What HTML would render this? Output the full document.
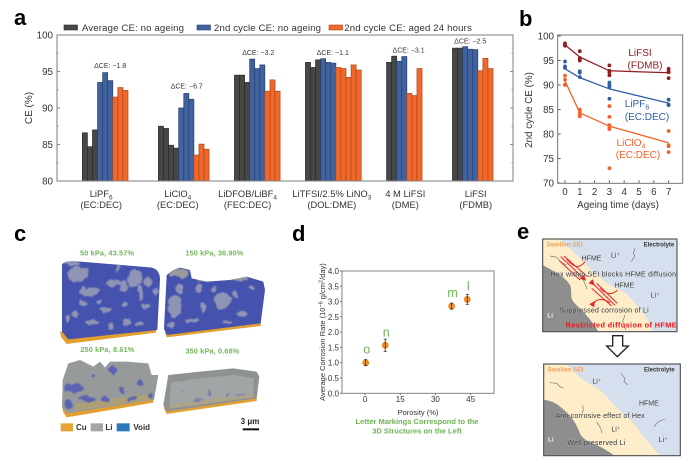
<!DOCTYPE html>
<html lang="en">
<head>
<meta charset="utf-8">
<title>Corrosion and ageing of lithium metal electrolytes</title>
<style>
html,body{margin:0;padding:0;background:#fff;width:685px;height:469px;overflow:hidden}
svg{display:block;font-family:"Liberation Sans",sans-serif;filter:blur(.35px)}
</style>
</head>
<body>
<svg id="fig" width="685" height="469" viewBox="0 0 685 469" xmlns="http://www.w3.org/2000/svg">
<defs>
<clipPath id="c1"><path d="M186,135Q190,120 240,125L450,142Q478,145 480,175L472,330L205,358L186,335Z"/></clipPath>
<clipPath id="c2"><path d="M500,165L520,150L540,143L570,150L575,175L620,185L690,180L740,170L790,185L795,210L782,310L500,345L492,325Z"/></clipPath>
<clipPath id="c3"><path d="M205,430L240,420L280,440L300,425L315,442L330,425L380,425L445,430L455,465L475,465L462,540L200,580L186,560L188,480Z"/></clipPath>
<clipPath id="c4"><path d="M505,465L600,455L700,445L770,455L778,470L770,535L500,575L490,555Z"/></clipPath>
<filter id="soft" x="-10%" y="-10%" width="120%" height="120%">
  <feTurbulence type="fractalNoise" baseFrequency=".035" numOctaves="3" seed="4" result="n"/>
  <feDisplacementMap in="SourceGraphic" in2="n" scale="26" xChannelSelector="R" yChannelSelector="G"/>
  <feGaussianBlur stdDeviation="1.6"/>
</filter>
<marker id="red-head" markerWidth="6" markerHeight="6" refX="3" refY="3" orient="auto"><path d="M0,0L6,3L0,6Z" fill="#e8262a"/></marker>
</defs>

<g id="panel-a"></g>
<g id="panel-b"></g>
<g id="panel-d"></g>

<text x="14" y="25" font-size="22" font-weight="700">a</text>
<text x="519" y="26" font-size="22" font-weight="700">b</text>
<text x="14" y="241" font-size="22" font-weight="700">c</text>
<text x="292" y="241" font-size="22" font-weight="700">d</text>
<text x="517" y="239" font-size="22" font-weight="700">e</text>

<!-- Panel c, drawn in 3x coordinates -->
<g transform="translate(0,220) scale(.33333)">
  <g>
    <path d="M180,335L468,325L468,338L200,372L184,352Z" fill="#e3a02f"/>
    <path d="M186,135Q190,120 240,125L450,142Q478,145 480,175L472,330L205,358L186,335Z" fill="#4552ae"/>
    <g clip-path="url(#c1)"><g fill="#8f93b4" filter="url(#soft)">
      <ellipse cx="235" cy="160" rx="30" ry="24"/><ellipse cx="265" cy="215" rx="25" ry="15"/><ellipse cx="370" cy="200" rx="15" ry="15"/>
      <ellipse cx="345" cy="190" rx="20" ry="10"/><ellipse cx="405" cy="175" rx="22" ry="28"/><ellipse cx="420" cy="220" rx="10" ry="20"/>
      <ellipse cx="445" cy="185" rx="12" ry="10"/><ellipse cx="435" cy="260" rx="15" ry="10"/><ellipse cx="320" cy="270" rx="18" ry="8"/>
      <ellipse cx="375" cy="255" rx="10" ry="10"/><ellipse cx="380" cy="305" rx="12" ry="16"/><ellipse cx="275" cy="305" rx="18" ry="10"/>
      <ellipse cx="330" cy="315" rx="10" ry="8"/><ellipse cx="225" cy="280" rx="12" ry="8"/><ellipse cx="205" cy="295" rx="6" ry="10"/>
      <ellipse cx="465" cy="215" rx="8" ry="8"/><ellipse cx="300" cy="245" rx="8" ry="6"/><ellipse cx="355" cy="145" rx="6" ry="14"/>
      <ellipse cx="215" cy="128" rx="30" ry="8"/><ellipse cx="250" cy="250" rx="14" ry="8"/><ellipse cx="420" cy="310" rx="10" ry="7"/>
    </g></g>
  </g>
  <g>
    <path d="M492,325L782,306L782,318L500,352Z" fill="#e3a02f"/>
    <path d="M500,165L520,150L540,143L570,150L575,175L620,185L690,180L740,170L790,185L795,210L782,310L500,345L492,325Z" fill="#4552ae"/>
    <g clip-path="url(#c2)"><g fill="#8f93b4" filter="url(#soft)">
      <ellipse cx="525" cy="260" rx="20" ry="35"/><ellipse cx="540" cy="205" rx="15" ry="15"/><ellipse cx="665" cy="240" rx="25" ry="25"/>
      <ellipse cx="645" cy="205" rx="8" ry="8"/><ellipse cx="595" cy="205" rx="8" ry="14"/><ellipse cx="705" cy="220" rx="10" ry="15"/>
      <ellipse cx="755" cy="205" rx="10" ry="6"/><ellipse cx="725" cy="280" rx="20" ry="8"/><ellipse cx="610" cy="265" rx="10" ry="15"/>
      <ellipse cx="575" cy="300" rx="20" ry="6"/><ellipse cx="680" cy="305" rx="15" ry="6"/><ellipse cx="515" cy="315" rx="15" ry="10"/>
    </g><g fill="#9a9a9e" filter="url(#soft)">
      <ellipse cx="540" cy="160" rx="30" ry="14"/><ellipse cx="720" cy="175" rx="28" ry="8"/><ellipse cx="610" cy="180" rx="20" ry="4"/>
    </g></g>
  </g>
  <g>
    <path d="M186,560L460,530L460,548L200,592L190,578Z" fill="#e3a02f"/>
    <path d="M205,430L240,420L280,440L300,425L315,442L330,425L380,425L445,430L455,465L475,465L462,540L200,580L186,560L188,480Z" fill="#979a9a"/>
    <g clip-path="url(#c3)">
      <path d="M225,552L455,520L458,540L225,572Z" fill="#ad9f78"/>
      <g filter="url(#soft)" fill="#5a64b4">
        <ellipse cx="340" cy="450" rx="8" ry="18"/><ellipse cx="220" cy="505" rx="25" ry="15"/><ellipse cx="205" cy="550" rx="12" ry="20"/>
        <ellipse cx="315" cy="535" rx="10" ry="14"/><ellipse cx="265" cy="535" rx="25" ry="10"/><ellipse cx="365" cy="510" rx="7" ry="10"/>
        <ellipse cx="420" cy="485" rx="8" ry="8"/><ellipse cx="450" cy="530" rx="12" ry="6"/><ellipse cx="395" cy="535" rx="12" ry="6"/><ellipse cx="280" cy="470" rx="5" ry="6"/>
      </g>
    </g>
  </g>
  <g>
    <path d="M490,562L770,532L770,543L500,582Z" fill="#e3a02f"/>
    <path d="M505,465L600,455L700,445L770,455L778,470L770,535L500,575L490,555Z" fill="#8f9292"/>
    <path d="M512,488L600,475L700,465L762,475L760,530L508,560Z" fill="#a2a5a5"/>
    <path d="M510,552L760,522L762,532L510,566Z" fill="#aca488"/>
    <g filter="url(#soft)" fill="#767cb0">
      <ellipse cx="630" cy="520" rx="4" ry="10"/><ellipse cx="680" cy="525" rx="5" ry="5"/><ellipse cx="550" cy="510" rx="4" ry="4"/><ellipse cx="725" cy="525" rx="10" ry="4"/><ellipse cx="590" cy="540" rx="16" ry="3"/>
    </g>
  </g>
  <g font-size="22" font-weight="700" fill="#74b45c" text-anchor="middle">
    <text x="321" y="107" textLength="162">50 kPa, 43.57%</text>
    <text x="643" y="107" textLength="174">150 kPa, 36.90%</text>
    <text x="322" y="396" textLength="162">250 kPa, 8.61%</text>
    <text x="637" y="400" textLength="162">350 kPa, 0.68%</text>
  </g>
  <g font-size="24" font-weight="700" fill="#333">
    <rect x="182" y="610" width="37" height="24" fill="#e6a336"/>
    <text x="228" y="630">Cu</text>
    <rect x="272" y="610" width="37" height="24" fill="#a5a5a5"/>
    <text x="316" y="630">Li</text>
    <rect x="350" y="610" width="39" height="24" fill="#2a78b8"/>
    <text x="400" y="630">Void</text>
  </g>
  <text x="750" y="612" font-size="24" font-weight="700" fill="#222" text-anchor="middle">3 μm</text>
  <rect x="728" y="625" width="49" height="6" fill="#111"/>
</g>

<!-- Panel e, drawn in 3x coordinates -->
<g transform="translate(500,220) scale(.33333)">
  <g>
    <rect x="128" y="57" width="403" height="278" fill="#d6dfee"/>
    <path d="M128,57H178C195,72 208,84 220,95C235,110 248,125 260,135C272,146 280,158 290,165C302,175 316,188 330,195C345,203 358,208 370,215C385,226 398,240 410,255C420,268 430,282 440,295C447,306 454,320 460,335H128Z" fill="#fdedc8"/>
    <path d="M128,135C146,145 164,154 180,165C192,174 204,184 210,195C216,208 212,222 215,235C220,250 238,262 250,275C265,292 282,312 295,335H128Z" fill="#8e8e8e"/>
    <rect x="128" y="57" width="403" height="278" fill="none" stroke="#555" stroke-width="3.5"/>
    <g fill="none" stroke="#777" stroke-width="2">
      <path d="M405,85L400,100L404,108L394,125"/>
      <path d="M150,108L170,112L185,128L200,135"/>
      <path d="M228,160L250,180L262,208"/>
      <path d="M375,285L368,305L378,330"/>
    </g>
    <g fill="none" stroke="#e8262a" stroke-width="3">
      <path d="M182,110L252,176" marker-end="url(#red-head)"/><path d="M192,108L262,170"/><path d="M178,122L240,180"/>
      <path d="M278,190L345,256" marker-start="url(#red-head)"/><path d="M290,190L352,250"/><path d="M275,205L335,258"/>
      <path d="M200,118C220,140 235,150 255,125"/>
      <path d="M300,205C320,225 340,225 352,210"/>
      <path d="M280,250C290,235 310,235 330,248" marker-start="url(#red-head)"/>
    </g>
    <g font-size="21" fill="#333" paint-order="stroke" stroke="#fff" stroke-opacity=".35" stroke-width="2">
      <text x="245" y="122">HFME</text>
      <text x="333" y="112">Li⁺</text>
      <text x="152" y="170" textLength="376">Hex within SEI blocks HFME diffusion</text>
      <text x="343" y="202">HFME</text>
      <text x="452" y="233">Li⁺</text>
      <text x="178" y="278" textLength="268">Suppressed corrosion of Li</text>
    </g>
    <text x="140" y="80" font-size="19" font-weight="700" fill="#f0a060">Swollen SEI</text>
    <text x="431" y="80" font-size="18" font-weight="700" fill="#333">Electrolyte</text>
    <text x="142" y="293" font-size="19" font-weight="700" fill="#eee">Li</text>
    <text x="197" y="323" font-size="22" font-weight="700" fill="#f0141c" textLength="333">Restricted diffusion of HFME</text>
  </g>
  <path d="M338,347H368V378H385L352,410L320,378H338Z" fill="#fff" stroke="#222" stroke-width="4"/>
  <g>
    <rect x="131" y="432" width="410" height="275" fill="#d6dfee"/>
    <path d="M131,432H200C225,460 250,485 285,500C320,520 345,565 380,590C405,610 420,640 440,660C455,680 470,695 482,707H131Z" fill="#fdedc8"/>
    <path d="M131,540C150,540 170,550 180,560C205,580 225,600 240,640C250,665 290,672 310,685C325,695 335,700 342,707H131Z" fill="#8e8e8e"/>
    <rect x="131" y="432" width="410" height="275" fill="none" stroke="#555" stroke-width="3.5"/>
    <g fill="none" stroke="#777" stroke-width="2">
      <path d="M362,460L375,475L372,485L384,495"/>
      <path d="M150,488L170,490L180,500L190,505"/>
      <path d="M248,555L250,570L246,580"/>
      <path d="M290,605L302,625L306,640"/>
      <path d="M462,620L475,605L495,597"/>
    </g>
    <g font-size="21" fill="#333" paint-order="stroke" stroke="#fff" stroke-opacity=".35" stroke-width="2">
      <text x="277" y="491">Li⁺</text>
      <text x="417" y="556">HFME</text>
      <text x="166" y="594" textLength="268">Anti-corrosive effect of Hex</text>
      <text x="334" y="635">Li⁺</text>
      <text x="476" y="666">Li⁺</text>
      <text x="202" y="675" textLength="174">Well preserved Li</text>
    </g>
    <text x="142" y="455" font-size="19" font-weight="700" fill="#f0a060">Swollen SEI</text>
    <text x="432" y="455" font-size="18" font-weight="700" fill="#333">Electrolyte</text>
    <text x="144" y="664" font-size="19" font-weight="700" fill="#eee">Li</text>
  </g>
</g>
</svg>

<script>
/* Panel a data */
const categoryNames = ['LiPF', 'LiClO', 'LiDFOB/LiBF', 'LiTFSI/2.5% LiNO', '4 M LiFSI', 'LiFSI'];
const categorySubscripts = ['6', '4', '4', '3', '', ''];
const categorySolvents = ['(EC:DEC)', '(EC:DEC)', '(FEC:DEC)', '(DOL:DME)', '(DME)', '(FDMB)'];
const averageNoAgeing = [
  [86.6, 84.7, 87.0],
  [87.5, 87.2, 84.9, 84.5],
  [94.5, 94.5, 93.5],
  [96.25, 95.55, 96.6],
  [96.25, 97.1],
  [98.2, 98.2]
];
const secondCycleNoAgeing = [
  [93.5, 94.85, 93.75],
  [90.0, 92.0, 91.2],
  [96.7, 95.4, 95.9],
  [96.75, 96.25, 96.15],
  [96.4, 97.05],
  [98.4, 98.05, 98.0]
];
const secondCycleAged = [
  [91.5, 92.8, 92.4],
  [83.55, 85.05, 84.35],
  [92.3, 93.85, 92.3],
  [95.55, 95.4, 94.2, 95.9, 95.2],
  [92.0, 91.7, 95.4],
  [95.1, 96.8, 95.4]
];
const deltaLabels = ['ΔCE: −1.8', 'ΔCE: −6.7', 'ΔCE: −3.2', 'ΔCE: −1.1', 'ΔCE: −3.1', 'ΔCE: −2.5'];
const ceTicks = [80, 85, 90, 95, 100];
const legendLabels = ['Average CE: no ageing', '2nd cycle CE: no ageing', '2nd cycle CE: aged 24 hours'];

/* Panel b data: [day, CE] pairs */
const agingDayTicks = [0, 1, 2, 3, 4, 5, 6, 7];
const agingCeTicks = [70, 75, 80, 85, 90, 95, 100];
const fitDays = [0, 1, 3, 7];
const lifsiFit = [98.2, 95.7, 92.9, 92.5];
const lipf6Fit = [93.3, 91.5, 89.2, 86.3];
const liclo4Fit = [90.8, 84.3, 81.6, 78.2];
const lifsiPoints = [[0,98.5],[0,98.2],[0,98.0],[1,96.9],[1,95.5],[1,95.2],[1,95.0],[3,94],[3,92.9],[3,92.6],[3,92],[7,93.3],[7,92.8],[7,92.6],[7,91.4]];
const lipf6Points = [[0,94.8],[0,93.8],[0,93.5],[1,92.8],[1,92.5],[1,91.6],[3,90.5],[3,90],[3,89.6],[3,87.2],[7,87],[7,86],[7,85.9]];
const liclo4Points = [[0,91.9],[0,91.1],[0,90.1],[0,90],[1,85],[1,84.5],[1,83.9],[1,83.6],[3,85.7],[3,83.5],[3,81.8],[3,81.4],[3,81],[3,73],[7,80.6],[7,77.7],[7,77.5],[7,76.3]];

/* Panel d data */
const porosityValues = [0.3, 8.61, 36.9, 43.57];
const corrosionRates = [1.0, 1.57, 2.85, 3.07];
const corrosionErrors = [0.1, 0.2, 0.1, 0.16];
const pointLetters = ['o', 'n', 'm', 'l'];
const corrosionTicks = ['0.0', '0.5', '1.0', '1.5', '2.0', '2.5', '3.0', '3.5', '4.0'];
const porosityTicks = [0, 15, 30, 45];

const NS = 'http://www.w3.org/2000/svg';
function make(parent, tag, attrs, content) {
  const el = document.createElementNS(NS, tag);
  for (const k in attrs) el.setAttribute(k, attrs[k]);
  if (content !== undefined) el.textContent = content;
  parent.appendChild(el);
  return el;
}

/* ---------- Panel a ---------- */
(function () {
  const g = document.getElementById('panel-a');
  const left = 57, right = 513, top = 35, bottom = 181;
  const barW = 5.07;
  const gapBars = [5, 6, 5, 5, 5, 6];
  const labelShift = [-4, -6, -9.7, -1.5, 1, 3];
  const deltaPos = [[5, 68], [3, 88.7], [1, 55], [-0.5, 55], [4.3, 52.7], [-2.5, 43.7]];
  const y = v => bottom - (v - 80) * (bottom - top) / 20;
  const axisColor = '#8a8a8a', tickText = '#333';

  const frame = make(g, 'rect', {x: left, y: top, width: right - left, height: bottom - top, fill: 'none', stroke: axisColor, 'stroke-width': 1.1});
  
  

  for (let v = 80; v <= 100; v += 2.5) {
    const major = v % 5 === 0;
    const len = major ? 3 : 1.5;
    const t1 = make(g, 'line', {x1: left, x2: left + len, y1: y(v), y2: y(v), stroke: axisColor});
    
    
    const t2 = make(g, 'line', {x1: right, x2: right - len, y1: y(v), y2: y(v), stroke: axisColor});
    
    
  }
  ceTicks.forEach(v => {
    const t = make(g, 'text', {x: 53, y: y(v) + 3.5, 'font-size': 9.8, fill: tickText, 'text-anchor': 'end'}, v);
    
    
  });
  const yTitle = make(g, 'text', {transform: 'translate(32,108) rotate(-90)', 'font-size': 10, fill: tickText, 'text-anchor': 'middle'}, 'CE (%)');
  
  

  const seriesStyle = [
    {data: averageNoAgeing, fill: '#474747', stroke: '#2c2c2c', name: 'bar-average'},
    {data: secondCycleNoAgeing, fill: '#40629f', stroke: '#2a426f', name: 'bar-no-ageing'},
    {data: secondCycleAged, fill: '#f2672a', stroke: '#a8481d', name: 'bar-aged'}
  ];
  let slot = 0;
  categoryNames.forEach((name, i) => {
    slot += gapBars[i];
    const start = slot;
    seriesStyle.forEach(s => {
      s.data[i].forEach(v => {
        const b = make(g, 'rect', {x: left + slot * barW, y: y(v), width: barW, height: bottom - y(v), fill: s.fill, stroke: s.stroke, 'stroke-width': 0.7});
        
        
        slot++;
      });
    });
    const centre = left + (start + slot) / 2 * barW;
    const cx = centre + labelShift[i];
    const label = make(g, 'text', {x: cx, y: 197, 'font-size': 9.4, fill: tickText, 'text-anchor': 'middle'}, name);
    
    
    if (categorySubscripts[i]) make(label, 'tspan', {dy: 2.5, 'font-size': 6.5}, categorySubscripts[i]);
    const solvent = make(g, 'text', {x: cx, y: 208, 'font-size': 9.4, fill: tickText, 'text-anchor': 'middle'}, categorySolvents[i]);
    
    
    const delta = make(g, 'text', {x: centre + deltaPos[i][0], y: deltaPos[i][1], 'font-size': 7, fill: tickText, 'text-anchor': 'middle'}, deltaLabels[i]);
    
    
  });
  const baseLine = make(g, 'line', {x1: left, x2: right, y1: bottom, y2: bottom, stroke: axisColor, 'stroke-width': 1.1});
  
  

  const legendSwatchX = [64, 197, 329];
  const legendTextX = [82, 214, 344.3];
  const legendWidth = [102, 107, 127.5];
  legendLabels.forEach((txt, i) => {
    const sw = make(g, 'rect', {x: legendSwatchX[i], y: 25, width: 13.5, height: 5, fill: seriesStyle[i].fill, stroke: seriesStyle[i].stroke, 'stroke-width': 0.6});
    
    
    const t = make(g, 'text', {x: legendTextX[i], y: 31, 'font-size': 9.6, fill: '#333', textLength: legendWidth[i]}, txt);
    
    
  });
})();

/* ---------- Panel b ---------- */
(function () {
  const g = document.getElementById('panel-b');
  const left = 557.7, right = 682.7, top = 35, bottom = 183.3;
  const x = d => 565 + d * 14.8;
  const y = v => 183 - (v - 70) * 4.9;
  const axisColor = '#666', tickText = '#333';

  const frame = make(g, 'rect', {x: left, y: top, width: right - left, height: bottom - top, fill: 'none', stroke: axisColor, 'stroke-width': 0.9});
  
  

  agingCeTicks.forEach(v => {
    const tk = make(g, 'line', {x1: left, x2: left + 3, y1: y(v), y2: y(v), stroke: axisColor});
    
    
    const t = make(g, 'text', {x: 554, y: y(v) + 3.5, 'font-size': 9.8, fill: tickText, 'text-anchor': 'end'}, v);
    
    
  });
  agingDayTicks.forEach(d => {
    const tk = make(g, 'line', {x1: x(d), x2: x(d), y1: bottom, y2: bottom - 3, stroke: axisColor});
    
    
    const t = make(g, 'text', {x: x(d), y: 195, 'font-size': 9.8, fill: tickText, 'text-anchor': 'middle'}, d);
    
    
  });
  const xTitle = make(g, 'text', {x: 618, y: 208, 'font-size': 9.8, fill: tickText, 'text-anchor': 'middle'}, 'Ageing time (days)');
  
  
  const yTitle = make(g, 'text', {transform: 'translate(532,110) rotate(-90)', 'font-size': 9.8, fill: tickText, 'text-anchor': 'middle'}, '2nd cycle CE (%)');
  
  

  const series = [
    {fit: lifsiFit, pts: lifsiPoints, color: '#8f1d22', name: 'lifsi'},
    {fit: lipf6Fit, pts: lipf6Points, color: '#2f5ea8', name: 'lipf6'},
    {fit: liclo4Fit, pts: liclo4Points, color: '#f4602a', name: 'liclo4'}
  ];
  series.forEach(s => {
    const line = make(g, 'polyline', {points: fitDays.map((d, i) => x(d) + ',' + y(s.fit[i])).join(' '), fill: 'none', stroke: s.color, 'stroke-width': 1.3});
    
    
    s.pts.forEach(p => {
      const c = make(g, 'circle', {cx: x(p[0]), cy: y(p[1]), r: 1.9, fill: s.color});
      
      
    });
  });

  const seriesLabels = [
    ['LiFSI', '', 640, 56, '#8f1d22'], ['(FDMB)', '', 645, 68.5, '#8f1d22'],
    ['LiPF', '6', 637, 107, '#2f5ea8'], ['(EC:DEC)', '', 647, 120, '#2f5ea8'],
    ['LiClO', '4', 631, 146, '#f4602a'], ['(EC:DEC)', '', 638, 158, '#f4602a']
  ];
  seriesLabels.forEach(l => {
    const t = make(g, 'text', {x: l[2], y: l[3], 'font-size': 10, fill: l[4], 'text-anchor': 'middle'}, l[0]);
    
    
    if (l[1]) make(t, 'tspan', {dy: 2.5, 'font-size': 7}, l[1]);
  });
})();

/* ---------- Panel d ---------- */
(function () {
  const g = document.getElementById('panel-d');
  const left = 342, right = 494, top = 271, bottom = 393.3;
  const x = p => 365 + p * 2.347;
  const y = v => bottom - v * (bottom - top) / 4;
  const axisColor = '#777', tickText = '#333';

  const frame = make(g, 'rect', {x: left, y: top, width: right - left, height: bottom - top, fill: 'none', stroke: axisColor, 'stroke-width': 0.9});
  
  

  corrosionTicks.forEach(v => {
    const tk = make(g, 'line', {x1: left, x2: left - 2, y1: y(+v), y2: y(+v), stroke: axisColor});
    
    
    const t = make(g, 'text', {x: 339, y: y(+v) + 3, 'font-size': 8, fill: tickText, 'text-anchor': 'end'}, v);
    
    
  });
  porosityTicks.forEach(p => {
    const tk = make(g, 'line', {x1: x(p), x2: x(p), y1: bottom, y2: bottom + 2, stroke: axisColor});
    
    
    const t = make(g, 'text', {x: x(p), y: 402, 'font-size': 8, fill: tickText, 'text-anchor': 'middle'}, p);
    
    
  });
  const xTitle = make(g, 'text', {x: 418, y: 415, 'font-size': 7.5, fill: tickText, 'text-anchor': 'middle'}, 'Porosity (%)');
  
  
  const note1 = make(g, 'text', {x: 417, y: 424, 'font-size': 7.5, 'font-weight': 700, fill: '#6db352', 'text-anchor': 'middle'}, 'Letter Markings Correspond to the');
  
  
  const note2 = make(g, 'text', {x: 417, y: 433.5, 'font-size': 7.5, 'font-weight': 700, fill: '#6db352', 'text-anchor': 'middle'}, '3D Structures on the Left');
  
  
  const yTitle = make(g, 'text', {transform: 'translate(325,332) rotate(-90)', 'font-size': 7.5, fill: tickText, 'text-anchor': 'middle'}, 'Average Corrosion Rate (10');
  
  
  make(yTitle, 'tspan', {dy: -2.5, 'font-size': 5.5}, '−6');
  make(yTitle, 'tspan', {dy: 2.5}, ' g/cm');
  make(yTitle, 'tspan', {dy: -2.5, 'font-size': 5.5}, '2');
  make(yTitle, 'tspan', {dy: 2.5}, '/day)');

  porosityValues.forEach((p, i) => {
    const cx = x(p), cy = y(corrosionRates[i]), e = corrosionErrors[i];
    const pt = make(g, 'circle', {cx: cx, cy: cy, r: 3.4, fill: '#f08a1c'});
    
    
    const core = make(g, 'circle', {cx: cx, cy: cy, r: 1, fill: '#fbd9a8'});
    
    
    const bar = make(g, 'line', {x1: cx, x2: cx, y1: y(corrosionRates[i] + e), y2: y(corrosionRates[i] - e), stroke: '#222', 'stroke-width': 0.8});
    
    
    const c1 = make(g, 'line', {x1: cx - 1.5, x2: cx + 1.5, y1: y(corrosionRates[i] + e), y2: y(corrosionRates[i] + e), stroke: '#222', 'stroke-width': 0.7});
    
    
    const c2 = make(g, 'line', {x1: cx - 1.5, x2: cx + 1.5, y1: y(corrosionRates[i] - e), y2: y(corrosionRates[i] - e), stroke: '#222', 'stroke-width': 0.7});
    
    
    const letter = make(g, 'text', {x: cx + 1, y: cy - 9, 'font-size': 12.5, fill: '#6db352', 'text-anchor': 'middle'}, pointLetters[i]);
    
    
  });
})();
</script>
</body>
</html>
